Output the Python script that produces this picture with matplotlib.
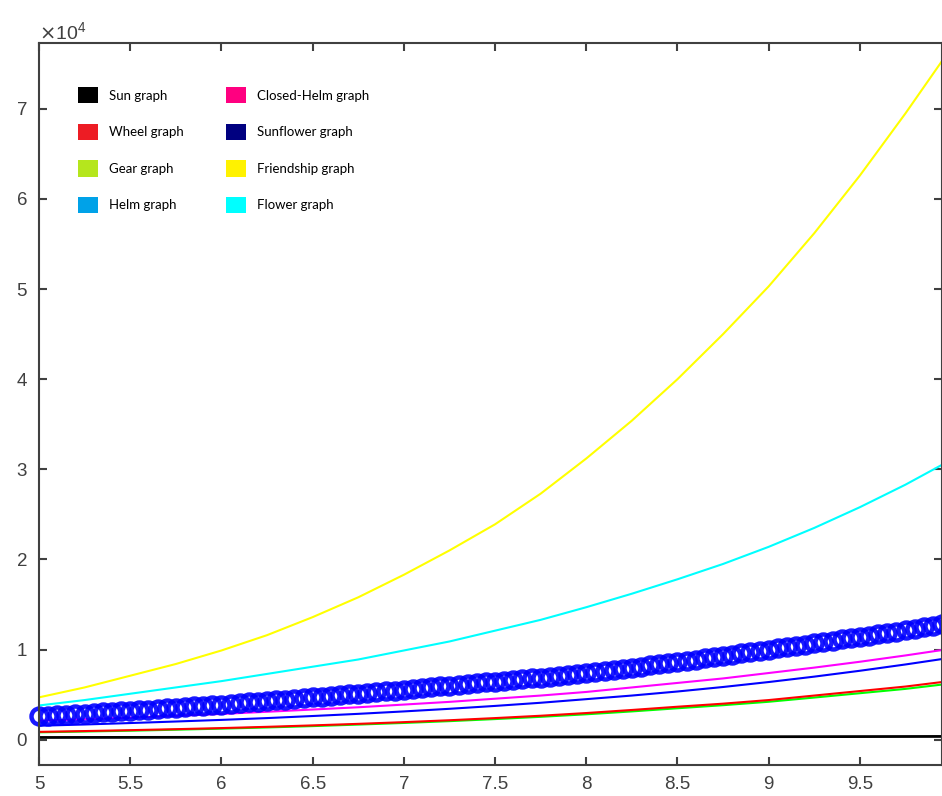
import matplotlib
matplotlib.use("Agg")
import matplotlib.pyplot as plt
from matplotlib.patches import Patch
from matplotlib.ticker import FormatStrFormatter, ScalarFormatter
import numpy as np

# x grid for the plain lines
x = [5.0, 5.25, 5.5, 5.75, 6.0, 6.25, 6.5, 6.75, 7.0, 7.25, 7.5,
     7.75, 8.0, 8.25, 8.5, 8.75, 9.0, 9.25, 9.5, 9.75, 9.95]

sun = [250, 255, 260, 265, 270, 275, 280, 285, 290, 295, 300,
       305, 310, 316, 322, 328, 334, 340, 348, 356, 364]
wheel = [870, 960, 1060, 1170, 1290, 1430, 1590, 1760, 1950, 2160, 2400,
         2660, 2960, 3300, 3660, 4000, 4400, 4900, 5400, 5900, 6400]
gear = [820, 910, 1000, 1110, 1230, 1360, 1510, 1680, 1860, 2060, 2290,
        2540, 2820, 3140, 3490, 3830, 4210, 4680, 5160, 5640, 6120]
helm = [1550, 1690, 1850, 2020, 2200, 2400, 2630, 2870, 3140, 3430, 3750,
        4100, 4500, 4900, 5350, 5850, 6400, 7000, 7650, 8350, 8950]
closed_helm = [2100, 2270, 2450, 2650, 2860, 3100, 3350, 3600, 3900, 4200, 4550,
               4900, 5300, 5800, 6300, 6800, 7400, 8000, 8650, 9350, 9950]
friendship = [4700, 5800, 7100, 8400, 9900, 11600, 13600, 15800, 18300, 21000, 23900,
              27300, 31200, 35400, 40000, 45000, 50300, 56200, 62600, 69500, 75300]
flower = [3800, 4400, 5100, 5800, 6500, 7300, 8100, 8900, 9900, 10900, 12100,
          13300, 14700, 16200, 17800, 19500, 21400, 23500, 25800, 28300, 30500]

# sunflower series is drawn with dense circle markers (step 0.05)
x_sunflower = np.linspace(5.0, 9.95, 100)
sunflower = [2600, 2660, 2720, 2780, 2840, 2900, 2960, 3020, 3080, 3140,
             3200, 3270, 3340, 3410, 3480, 3550, 3620, 3690, 3760, 3830,
             3900, 3980, 4060, 4140, 4220, 4300, 4380, 4460, 4540, 4620,
             4700, 4780, 4860, 4940, 5020, 5100, 5190, 5280, 5370, 5460,
             5550, 5640, 5730, 5820, 5910, 6000, 6090, 6180, 6270, 6360,
             6450, 6540, 6630, 6720, 6810, 6900, 7000, 7100, 7200, 7300,
             7400, 7520, 7640, 7760, 7880, 8000, 8120, 8240, 8360, 8480,
             8600, 8740, 8880, 9020, 9160, 9300, 9440, 9580, 9720, 9860,
             10000, 10140, 10280, 10420, 10560, 10700, 10840, 10980, 11120, 11260,
             11400, 11550, 11700, 11850, 12000, 12150, 12310, 12470, 12630, 12800]

legend_labels = ["Sun graph", "Wheel graph", "Gear graph", "Helm graph",
                 "Closed-Helm graph", "Sunflower graph", "Friendship graph", "Flower graph"]
legend_colors = ["#000000", "#ed1c24", "#b5e61d", "#00a2e8",
                 "#ff0080", "#000080", "#fff200", "#00ffff"]

plt.rcParams["font.family"] = ["Liberation Sans", "DejaVu Sans"]

fig = plt.figure(figsize=(9.42, 7.96), dpi=100)
ax = fig.add_axes([0.0414, 0.039, 0.9586, 0.907])

# 画线
ax.plot(x, sun, color="black", lw=2.0)
ax.plot(x, gear, color="#00ff00", lw=1.5)
ax.plot(x, wheel, color="#ff0000", lw=1.5)
ax.plot(x, helm, color="#0000ff", lw=1.5)
ax.plot(x, closed_helm, color="#ff00ff", lw=1.5)
ax.plot(x_sunflower, sunflower, linestyle="None", marker="o", ms=11.5,
        mfc="none", mec="#0000ff", mew=3.2, alpha=0.9, clip_on=False)
ax.plot(x, friendship, color="#ffff00", lw=1.5)
ax.plot(x, flower, color="#00ffff", lw=1.5)

ax.set_xlim(5, 9.95)
ax.set_ylim(-2800, 77300)
ax.set_xticks([5, 5.5, 6, 6.5, 7, 7.5, 8, 8.5, 9, 9.5])
ax.xaxis.set_major_formatter(FormatStrFormatter("%g"))
ax.set_yticks([0, 10000, 20000, 30000, 40000, 50000, 60000, 70000])
fmt = ScalarFormatter(useMathText=True)
fmt.set_powerlimits((0, 0))
ax.yaxis.set_major_formatter(fmt)
ax.yaxis.get_offset_text().set_fontsize(14)
ax.yaxis.get_offset_text().set_color("#404040")

for s in ax.spines.values():
    s.set_color("#404040")
    s.set_linewidth(1.5)
ax.tick_params(direction="in", top=True, right=True, length=6, width=1.5,
               colors="#404040", labelsize=13.5, labelcolor="#404040", pad=8)

# 图例
handles = [Patch(facecolor=c, edgecolor="none") for c in legend_colors]
leg = ax.legend(handles, legend_labels, ncol=2, frameon=False,
                loc="upper left", bbox_to_anchor=(0.03, 0.955),
                handlelength=1.5, handleheight=1.5, handletextpad=0.85,
                labelspacing=1.55, columnspacing=3.2,
                prop={"family": "Lato", "size": 9.5})

fig.savefig("out.png", dpi=100)
